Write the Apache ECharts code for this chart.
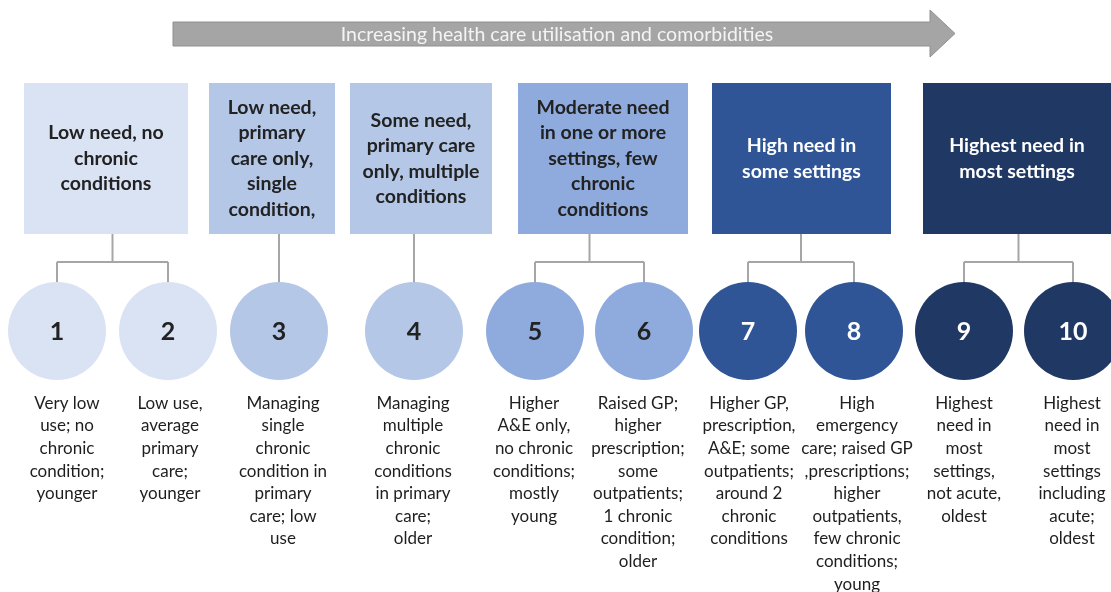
<!DOCTYPE html>
<html>
<head>
<meta charset="utf-8">
<title>Health care need segments</title>
<script src="https://cdn.jsdelivr.net/npm/echarts@6/dist/echarts.min.js"></script>
<style>
  html, body { margin: 0; padding: 0; background: #fff; }
  #chart { width: 1111px; height: 592px; }
</style>
</head>
<body>
<div id="chart"></div>
<script>
// ---- data ----
const arrowLabel = 'Increasing health care utilisation and comorbidities';

const groupTitles = [
  'Low need, no\nchronic\nconditions',
  'Low need,\nprimary\ncare only,\nsingle\ncondition,',
  'Some need,\nprimary care\nonly, multiple\nconditions',
  'Moderate need\nin one or more\nsettings, few\nchronic\nconditions',
  'High need in\nsome settings',
  'Highest need in\nmost settings'
];

const segmentIds = ['1', '2', '3', '4', '5', '6', '7', '8', '9', '10'];
// which group box each segment hangs from
const segmentGroup = [0, 0, 1, 2, 3, 3, 4, 4, 5, 5];
const segmentDesc = [
  'Very low\nuse; no\nchronic\ncondition;\nyounger',
  'Low use,\naverage\nprimary\ncare;\nyounger',
  'Managing\nsingle\nchronic\ncondition in\nprimary\ncare; low\nuse',
  'Managing\nmultiple\nchronic\nconditions\nin primary\ncare;\nolder',
  'Higher\nA&E only,\nno chronic\nconditions;\nmostly\nyoung',
  'Raised GP;\nhigher\nprescription;\nsome\noutpatients;\n1 chronic\ncondition;\nolder',
  'Higher GP,\nprescription,\nA&E; some\noutpatients;\naround 2\nchronic\nconditions',
  'High\nemergency\ncare; raised GP\n,prescriptions;\nhigher\noutpatients,\nfew chronic\nconditions;\nyoung',
  'Highest\nneed in\nmost\nsettings,\nnot acute,\noldest',
  'Highest\nneed in\nmost\nsettings\nincluding\nacute;\noldest'
];

// ---- layout (axis units, frame is 1111 x 592) ----
const groupSpan = [[24, 188], [209, 335], [350, 492], [518, 688], [712, 891], [923, 1111]];
const segmentX = [57, 168, 279, 414, 535, 644, 748, 854, 964, 1073];
const descX = [67, 170, 283, 413, 534, 638, 749, 857, 964, 1072];
const boxTop = 83, boxBottom = 234;
const busY = 262, circleY = 331, circleR = 49;
const descTop = 392;
const arrowBody = { x0: 173, x1: 930, top: 22, bottom: 46 };
const arrowHead = { tip: 955, top: 10, bottom: 57 };

// ---- styles ----
const groupColors = ['#dae3f3', '#b4c7e7', '#b4c7e7', '#8faadc', '#2f5597', '#203864'];
const darkText = '#222222';
const lineColor = '#a6a6a6';
const font = 'Lato, "Open Sans", sans-serif';

const chart = echarts.init(document.getElementById('chart'));

function renderArrow(params, api) {
  const pts = [
    [arrowBody.x0, arrowBody.top],
    [arrowBody.x1, arrowBody.top],
    [arrowBody.x1, arrowHead.top],
    [arrowHead.tip, (arrowHead.top + arrowHead.bottom) / 2],
    [arrowBody.x1, arrowHead.bottom],
    [arrowBody.x1, arrowBody.bottom],
    [arrowBody.x0, arrowBody.bottom]
  ].map(p => api.coord(p));
  const mid = api.coord([557, (arrowBody.top + arrowBody.bottom) / 2]);
  return {
    type: 'group',
    children: [
      { type: 'polygon', shape: { points: pts }, style: { fill: '#a5a5a5', stroke: '#909090', lineWidth: 1 } },
      {
        type: 'text',
        style: {
          text: arrowLabel, x: mid[0], y: mid[1] + 1, align: 'center', verticalAlign: 'middle',
          fontFamily: font, fontSize: 19.5, fill: '#f4f4f4'
        }
      }
    ]
  };
}

function renderGroup(params, api) {
  const i = params.dataIndex;
  const p0 = api.coord([groupSpan[i][0], boxTop]);
  const p1 = api.coord([groupSpan[i][1], boxBottom]);
  const children = [
    {
      type: 'rect',
      shape: { x: p0[0], y: p0[1], width: p1[0] - p0[0], height: p1[1] - p0[1] },
      style: { fill: groupColors[i] }
    },
    {
      type: 'text',
      style: {
        text: groupTitles[i], x: (p0[0] + p1[0]) / 2, y: (p0[1] + p1[1]) / 2,
        align: 'center', verticalAlign: 'middle',
        fontFamily: font, fontWeight: 'bold', fontSize: 19.5, lineHeight: 25.5,
        fill: i >= 4 ? '#ffffff' : darkText
      }
    }
  ];
  // connectors down to the segment circles
  const kids = segmentGroup.map((g, k) => g === i ? k : -1).filter(k => k >= 0);
  const lineStyle = { stroke: lineColor, lineWidth: 2 };
  const top = circleY - circleR;
  if (kids.length === 1) {
    const a = api.coord([segmentX[kids[0]], boxBottom]);
    const b = api.coord([segmentX[kids[0]], top]);
    children.push({ type: 'line', shape: { x1: a[0], y1: a[1], x2: b[0], y2: b[1] }, style: lineStyle });
  } else {
    const xs = kids.map(k => segmentX[k]);
    const midX = (Math.min(...xs) + Math.max(...xs)) / 2;
    const a = api.coord([midX, boxBottom]);
    const b = api.coord([midX, busY]);
    children.push({ type: 'line', shape: { x1: a[0], y1: a[1], x2: b[0], y2: b[1] }, style: lineStyle });
    const l = api.coord([Math.min(...xs), busY]);
    const r = api.coord([Math.max(...xs), busY]);
    children.push({ type: 'line', shape: { x1: l[0], y1: l[1], x2: r[0], y2: r[1] }, style: lineStyle });
    xs.forEach(x => {
      const s = api.coord([x, busY]);
      const e = api.coord([x, top]);
      children.push({ type: 'line', shape: { x1: s[0], y1: s[1], x2: e[0], y2: e[1] }, style: lineStyle });
    });
  }
  return { type: 'group', children };
}

function renderSegment(params, api) {
  const i = params.dataIndex;
  const c = api.coord([segmentX[i], circleY]);
  const r = api.size([circleR, circleR]);
  const d = api.coord([descX[i], descTop]);
  const g = segmentGroup[i];
  return {
    type: 'group',
    children: [
      { type: 'ellipse', shape: { cx: c[0], cy: c[1], rx: r[0], ry: r[1] }, style: { fill: groupColors[g] } },
      {
        type: 'text',
        style: {
          text: segmentIds[i], x: c[0], y: c[1] + 1, align: 'center', verticalAlign: 'middle',
          fontFamily: font, fontWeight: 'bold', fontSize: 25, fill: g >= 4 ? '#ffffff' : darkText
        }
      },
      {
        type: 'text',
        style: {
          text: segmentDesc[i], x: d[0], y: d[1], align: 'center', verticalAlign: 'top',
          fontFamily: font, fontSize: 17, lineHeight: 22.6, fill: '#1e1e1e'
        }
      }
    ]
  };
}

chart.setOption({
  animation: false,
  grid: { left: 0, right: 0, top: 0, bottom: 0 },
  xAxis: { type: 'value', min: 0, max: 1111, show: false },
  yAxis: { type: 'value', min: 0, max: 592, inverse: true, show: false },
  series: [
    { type: 'custom', renderItem: renderArrow, data: [[0]], silent: true },
    { type: 'custom', renderItem: renderGroup, data: groupTitles.map((t, i) => [i]), silent: true },
    { type: 'custom', renderItem: renderSegment, data: segmentIds.map((s, i) => [i]), silent: true }
  ]
});
</script>
</body>
</html>
